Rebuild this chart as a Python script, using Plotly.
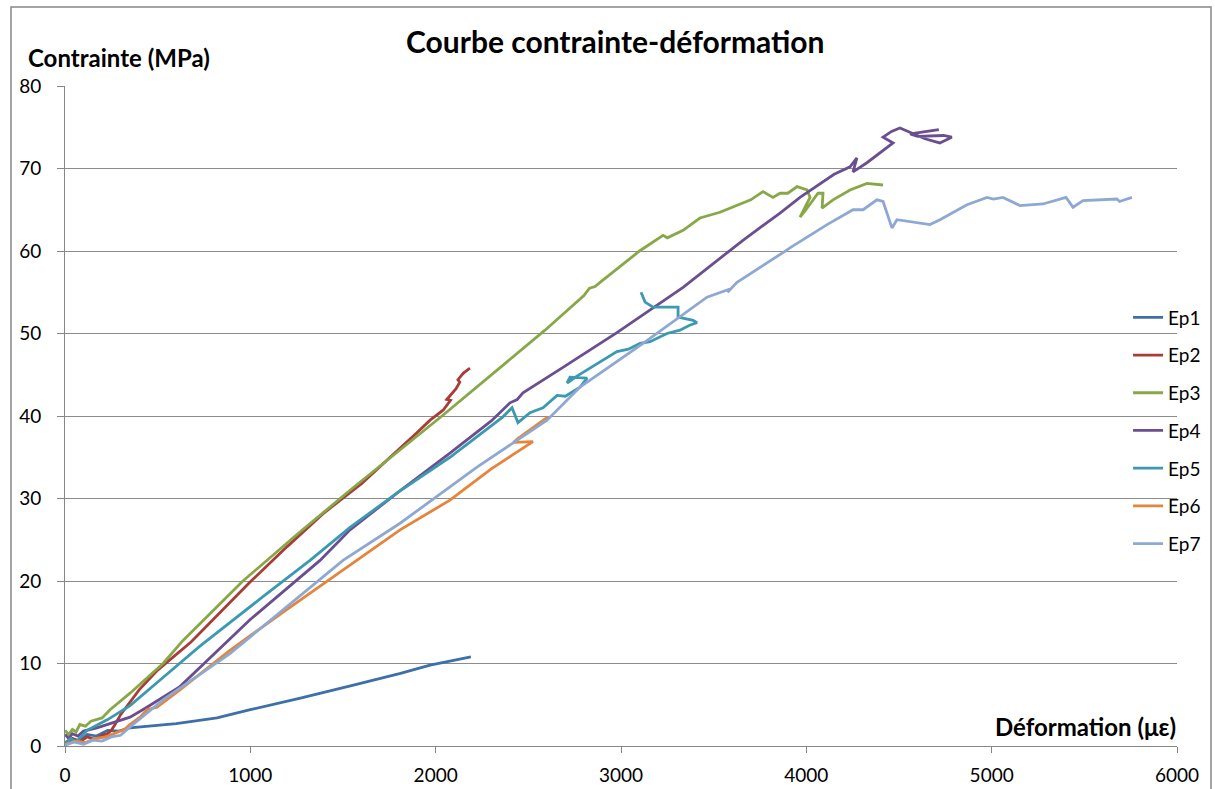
import plotly.graph_objects as go

# Essais de compression : déformation (µε) et contrainte (MPa) par éprouvette
series_names = ["Ep1", "Ep2", "Ep3", "Ep4", "Ep5", "Ep6", "Ep7"]

deformation_ep1 = [0, 40, 80, 120, 170, 230, 290, 350, 600, 820, 1000, 1270, 1540, 1810, 1970, 2190]
contrainte_ep1 = [0.2, 0.9, 0.6, 1.4, 1.2, 1.9, 1.8, 2.2, 2.7, 3.4, 4.4, 5.8, 7.3, 8.8, 9.8, 10.8]

deformation_ep2 = [0, 40, 80, 120, 160, 200, 230, 250, 270, 300, 400, 500, 680, 850, 1000, 1200,
                   1400, 1600, 1810, 1900, 1970, 2040, 2080, 2060, 2110, 2130, 2120, 2150, 2185]
contrainte_ep2 = [0.4, 0.9, 0.5, 1.1, 0.8, 1.3, 1.5, 1.9, 2.6, 3.8, 6.8, 9.2, 12.6, 16.5, 19.9, 24.2,
                  28.3, 31.8, 36.1, 38.0, 39.5, 40.7, 41.9, 42.0, 43.3, 44.1, 44.4, 45.2, 45.8]

deformation_ep3 = [0, 20, 40, 60, 80, 110, 140, 172, 200, 243, 351, 529, 637, 960, 1250, 1538, 2034,
                   2590, 2800, 2830, 2860, 2887, 3000, 3100, 3227, 3250, 3335, 3426, 3534, 3600, 3700,
                   3766, 3820, 3858, 3900, 3950, 4004, 4020, 3966, 3998, 4063, 4090, 4085, 4144, 4236,
                   4327, 4414]
contrainte_ep3 = [1.9, 1.4, 2.0, 1.7, 2.6, 2.4, 3.0, 3.2, 3.4, 4.4, 6.4, 10.0, 12.8, 20.0, 25.6, 31.0, 40.0,
                  50.4, 54.6, 55.5, 55.7, 56.2, 58.2, 60.0, 61.9, 61.6, 62.5, 64.0, 64.7, 65.3, 66.2,
                  67.2, 66.5, 67.0, 67.0, 67.8, 67.4, 66.5, 64.1, 65.0, 67.0, 67.0, 65.2, 66.2, 67.4,
                  68.2, 68.0]

deformation_ep4 = [0, 20, 40, 70, 100, 172, 351, 442, 620, 998, 1376, 1538, 1800, 2077, 2300, 2401,
                   2440, 2471, 2687, 2978, 3335, 3658, 3858, 3966, 4150, 4236, 4273, 4252, 4327, 4398,
                   4468, 4414, 4460, 4505, 4560, 4640, 4720, 4785, 4740, 4600, 4560, 4640, 4715]
contrainte_ep4 = [1.4, 0.9, 1.5, 1.2, 1.8, 2.2, 3.5, 4.7, 7.2, 15.3, 22.5, 26.2, 30.8, 35.5, 39.4, 41.6,
                  42.0, 42.8, 45.9, 50.1, 55.6, 61.3, 64.6, 66.5, 69.3, 70.2, 71.3, 69.6, 70.7, 71.9,
                  73.1, 73.8, 74.5, 74.9, 74.4, 73.6, 73.1, 73.8, 74.0, 73.9, 74.2, 74.5, 74.7]

deformation_ep5 = [0, 30, 60, 119, 230, 351, 529, 728, 1068, 1322, 1538, 1800, 2077, 2363, 2412, 2444,
                   2509, 2579, 2655, 2700, 2779, 2817, 2725, 2709, 2760, 2887, 2978, 3040, 3103, 3157,
                   3248, 3318, 3370, 3410, 3389, 3308, 3308, 3173, 3130, 3108]
contrainte_ep5 = [0.3, 0.9, 0.5, 1.9, 3.2, 4.9, 8.3, 12.1, 18.1, 22.5, 26.5, 30.8, 35.0, 39.9, 41.0, 39.2,
                  40.4, 41.0, 42.5, 42.4, 43.5, 44.6, 44.7, 44.0, 44.8, 46.5, 47.8, 48.1, 48.8, 49.0,
                  50.0, 50.4, 51.0, 51.3, 51.6, 52.0, 53.2, 53.2, 53.8, 55.0]

deformation_ep6 = [0, 60, 110, 160, 220, 270, 320, 350, 405, 442, 496, 620, 890, 1200, 1576, 1808,
                   2077, 2300, 2525, 2420, 2445, 2606]
contrainte_ep6 = [0.2, 0.6, 0.4, 0.9, 1.1, 1.6, 2.0, 2.6, 3.5, 4.4, 4.7, 6.8, 11.6, 16.6, 22.5, 26.2,
                  29.8, 33.6, 36.9, 36.8, 37.3, 39.9]

deformation_ep7 = [0, 50, 100, 150, 200, 250, 300, 351, 529, 890, 1500, 1808, 2223, 2601, 2779, 3119,
                   3464, 3588, 3575, 3626, 3880, 3896, 3920, 4112, 4252, 4306, 4381, 4414, 4462, 4489,
                   4667, 4721, 4829, 4867, 4975, 5010, 5061, 5153, 5277, 5353, 5401, 5439, 5493, 5676,
                   5690, 5757]
contrainte_ep7 = [0.1, 0.5, 0.2, 0.7, 0.6, 1.1, 1.3, 2.3, 5.6, 11.2, 22.5, 27.0, 33.8, 39.5, 43.5, 48.8,
                  54.4, 55.4, 55.0, 56.2, 59.9, 60.1, 60.5, 63.2, 65.0, 65.0, 66.2, 66.0, 62.8, 63.8,
                  63.2, 63.8, 65.2, 65.6, 66.5, 66.3, 66.5, 65.5, 65.7, 66.2, 66.5, 65.3, 66.1, 66.3,
                  66.0, 66.5]

series_x = [deformation_ep1, deformation_ep2, deformation_ep3, deformation_ep4,
            deformation_ep5, deformation_ep6, deformation_ep7]
series_y = [contrainte_ep1, contrainte_ep2, contrainte_ep3, contrainte_ep4,
            contrainte_ep5, contrainte_ep6, contrainte_ep7]
series_colors = ["#3D6FA8", "#A93B38", "#86A847", "#6B4E90", "#3B99B1", "#E5843A", "#8DA8D2"]

x_ticks = [0, 1000, 2000, 3000, 4000, 5000, 6000]
y_ticks = [0, 10, 20, 30, 40, 50, 60, 70, 80]

FONT = "Lato"

fig = go.Figure()
for name, xs, ys, col in zip(series_names, series_x, series_y, series_colors):
    fig.add_trace(go.Scatter(
        x=xs, y=ys, mode="lines", name=name, legendgroup=name,
        line=dict(color=col, width=2.8),
    ))

fig.update_layout(
    width=1215, height=789,
    paper_bgcolor="white", plot_bgcolor="white",
    margin=dict(l=65, r=38, t=86, b=43, autoexpand=False),
    font=dict(family=FONT, color="#000000", size=19),
    showlegend=True,
    legend=dict(
        x=0.956, y=0.678, xanchor="left", yanchor="top",
        bgcolor="rgba(0,0,0,0)", font=dict(size=19, family=FONT),
        tracegroupgap=10, itemwidth=30,
    ),
    xaxis=dict(
        range=[0, 6000], tickvals=x_ticks, showgrid=False, zeroline=False,
        showline=True, linecolor="#868686", linewidth=1,
        ticks="outside", ticklen=6, tickcolor="#868686",
        ticklabelstandoff=6, tickfont=dict(size=19, family=FONT),
    ),
    yaxis=dict(
        range=[0, 80], tickvals=y_ticks, showgrid=True, gridcolor="#8c8c8c", gridwidth=1,
        zeroline=False, showline=True, linecolor="#868686", linewidth=1,
        ticks="outside", ticklen=7, tickcolor="#868686",
        ticklabelstandoff=12, tickfont=dict(size=19, family=FONT),
    ),
    annotations=[
        dict(text="<b>Courbe contrainte-déformation</b>", xref="paper", yref="paper",
             x=(615 - 65) / 1112, y=(746 - 41) / 660, xanchor="center", yanchor="middle",
             showarrow=False, font=dict(size=30, family=FONT)),
        dict(text="<b>Contrainte (MPa)</b>", xref="paper", yref="paper",
             x=(26 - 65) / 1112, y=(746 - 57) / 660, xanchor="left", yanchor="middle",
             showarrow=False, font=dict(size=24, family=FONT)),
        dict(text="<b>Déformation (με)</b>", xref="paper", yref="paper",
             x=(1178 - 65) / 1112, y=(746 - 726) / 660, xanchor="right", yanchor="middle",
             showarrow=False, font=dict(size=24, family=FONT)),
    ],
    shapes=[
        dict(type="rect", xref="paper", yref="paper",
             x0=(11 - 65) / 1112, x1=(1211 - 65) / 1112,
             y0=(746 - 800) / 660, y1=(746 - 7) / 660,
             line=dict(color="#868686", width=1.5), fillcolor="rgba(0,0,0,0)", layer="below"),
    ],
)

fig.write_html("out.html")
